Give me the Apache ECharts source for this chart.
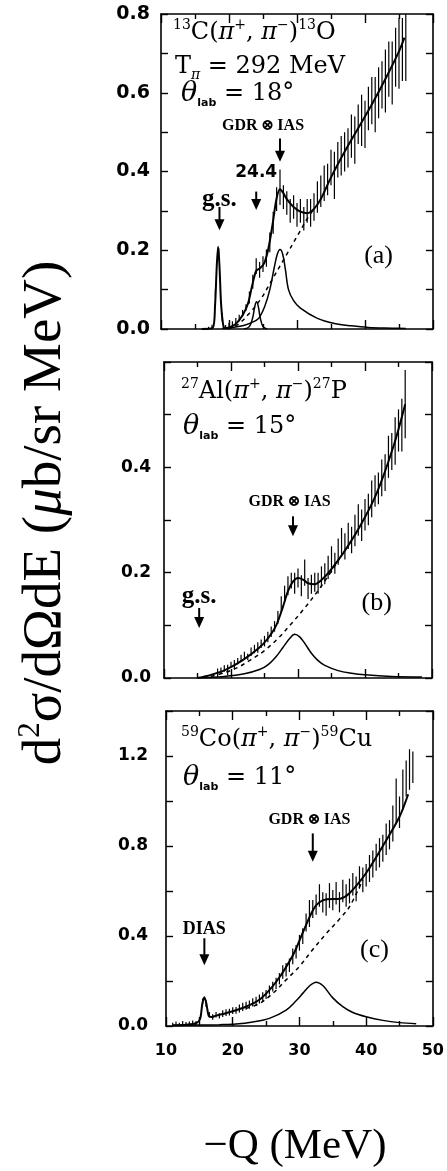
<!DOCTYPE html>
<html>
<head>
<meta charset="utf-8">
<script src="https://cdn.jsdelivr.net/npm/echarts@6/dist/echarts.min.js"></script>
<style>
html,body{margin:0;padding:0;background:#fff;}
#c{width:447px;height:1171px;}
</style>
</head>
<body>
<div id="c"></div>
<script>
// ---------------- DATA ----------------
// Panel (a) 13C(pi+,pi-)13O
const Q_A = [17.0,17.5,18.0,18.5,19.0,19.5,20.0,20.5,21.0,21.5,22.0,22.5,23.0,23.5,24.0,24.5,25.0,25.5,26.0,26.5,27.0,27.5,28.0,28.5,29.0,29.5,30.0,30.5,31.0,31.5,32.0,32.5,33.0,33.5,34.0,34.5,35.0,35.5,36.0,36.5,37.0,37.5,38.0,38.5,39.0,39.5,40.0,40.5,41.0,41.5,42.0,42.5,43.0,43.5,44.0,44.5,45.0,45.5,46.0];
const SIG_A = [0.000,0.005,0.09,0.19,0.03,0.004,0.008,0.012,0.02,0.028,0.04,0.055,0.08,0.12,0.16,0.15,0.165,0.18,0.22,0.27,0.33,0.36,0.335,0.32,0.30,0.31,0.29,0.30,0.28,0.30,0.295,0.31,0.335,0.35,0.37,0.38,0.41,0.39,0.43,0.44,0.45,0.46,0.49,0.48,0.52,0.53,0.52,0.56,0.58,0.57,0.60,0.62,0.63,0.66,0.65,0.69,0.70,0.71,0.72];
const ERR_A = [0.006,0.006,0.01,0.015,0.01,0.006,0.008,0.008,0.008,0.008,0.008,0.008,0.015,0.018,0.02,0.02,0.02,0.022,0.025,0.028,0.03,0.045,0.03,0.03,0.03,0.03,0.03,0.03,0.03,0.03,0.035,0.035,0.04,0.04,0.045,0.04,0.045,0.06,0.045,0.05,0.05,0.05,0.055,0.06,0.05,0.065,0.06,0.055,0.06,0.07,0.065,0.06,0.08,0.07,0.08,0.075,0.09,0.08,0.09];
const FIT_A = [[16,0],[17.6,0.003],[17.95,0.06],[18.2,0.16],[18.4,0.209],[18.6,0.16],[18.85,0.06],[19.2,0.006],[19.6,0.002],[20.2,0.005],[21,0.013],[22,0.035],[22.8,0.065],[23.4,0.11],[24,0.148],[24.6,0.155],[25.2,0.168],[25.8,0.205],[26.4,0.265],[27,0.332],[27.5,0.355],[28,0.345],[28.5,0.33],[29.5,0.31],[30.5,0.298],[31.5,0.294],[32.5,0.305],[33.5,0.33],[35,0.385],[37,0.45],[39,0.51],[41,0.57],[43,0.635],[45,0.705],[45.8,0.74]];
const BG_A = [[19.8,0],[20.5,0.004],[21.5,0.014],[23,0.04],[24.75,0.078],[26,0.115],[28,0.175],[30,0.235],[31.5,0.28],[32.5,0.305]];
const GDR_A = [[19,0.002],[20.5,0.004],[22,0.008],[23,0.014],[24,0.022],[24.5,0.03],[25.25,0.057],[26,0.1],[26.7,0.16],[27.1,0.19],[27.5,0.202],[27.9,0.19],[28.3,0.15],[28.75,0.1],[29.5,0.072],[30.5,0.053],[33,0.027],[35.5,0.014],[38,0.008],[40.5,0.004],[44,0.002],[46,0.001]];
const P24_A = [[22.2,0],[23,0.006],[23.5,0.03],[23.8,0.058],[24.05,0.069],[24.3,0.058],[24.6,0.028],[25,0.006],[25.6,0]];
const ARROWS_A = [[18.6,0.31,0.251],[24.0,0.349,0.302],[27.5,0.484,0.425]];
const LABELS_A = [['g.s.',18.6,0.33],['24.4',24.0,0.397],['GDR⊗IAS',25.0,0.516],['(a)',42,0.184]];

// Panel (b) 27Al(pi+,pi-)27P
const Q_B = [18.0,18.5,19.0,19.5,20.0,20.5,21.0,21.5,22.0,22.5,23.0,23.5,24.0,24.5,25.0,25.5,26.0,26.5,27.0,27.5,28.0,28.5,29.0,29.5,30.0,30.5,31.0,31.5,32.0,32.5,33.0,33.5,34.0,34.5,35.0,35.5,36.0,36.5,37.0,37.5,38.0,38.5,39.0,39.5,40.0,40.5,41.0,41.5,42.0,42.5,43.0,43.5,44.0,44.5,45.0,45.5,46.0];
const SIG_B = [0.01,0.014,0.018,0.015,0.025,0.026,0.032,0.038,0.042,0.04,0.05,0.055,0.058,0.065,0.07,0.078,0.088,0.098,0.115,0.14,0.16,0.175,0.185,0.18,0.19,0.175,0.2,0.17,0.178,0.182,0.18,0.192,0.198,0.21,0.225,0.218,0.24,0.26,0.25,0.27,0.262,0.28,0.3,0.29,0.31,0.32,0.34,0.355,0.36,0.38,0.39,0.42,0.43,0.45,0.47,0.48,0.52];
const ERR_B = [0.008,0.006,0.006,0.01,0.006,0.008,0.006,0.006,0.008,0.006,0.008,0.008,0.01,0.008,0.01,0.01,0.01,0.01,0.012,0.015,0.015,0.018,0.015,0.02,0.018,0.02,0.025,0.02,0.018,0.018,0.02,0.02,0.02,0.022,0.025,0.02,0.025,0.025,0.025,0.025,0.025,0.03,0.03,0.03,0.03,0.03,0.035,0.03,0.03,0.035,0.035,0.04,0.035,0.045,0.04,0.05,0.065];
const FIT_B = [[15,0],[17,0.006],[19.25,0.016],[21.75,0.034],[24.25,0.058],[25.5,0.075],[26.75,0.1],[27.75,0.135],[28.5,0.165],[29.25,0.183],[30,0.19],[30.75,0.187],[31.5,0.18],[32.5,0.178],[33.5,0.186],[34.75,0.203],[36.75,0.237],[39.25,0.288],[41.75,0.351],[44.25,0.44],[46,0.52]];
const BG_B = [[17,0.003],[19,0.01],[21,0.02],[23,0.035],[25,0.052],[27,0.075],[29,0.103],[31,0.133],[33,0.166],[35,0.203],[36.2,0.227]];
const GDR_B = [[15,0],[19,0.003],[22,0.008],[24.25,0.016],[25.5,0.025],[26.75,0.041],[27.75,0.058],[28.75,0.075],[29.5,0.083],[30.25,0.078],[31,0.066],[32,0.047],[33,0.033],[34,0.024],[36,0.014],[38,0.009],[40,0.006],[44,0.003],[48.5,0.002]];
const ARROWS_B = [[15.25,0.133,0.095],[29.25,0.307,0.269]];
const LABELS_B = [['g.s.',15.25,0.155],['GDR⊗IAS',28.75,0.335],['(b)',41.75,0.142]];

// Panel (c) 59Co(pi+,pi-)59Cu
const Q_C = [11.0,11.5,12.0,12.5,13.0,13.5,14.0,14.5,15.0,15.5,16.0,16.5,17.0,17.5,18.0,18.5,19.0,19.5,20.0,20.5,21.0,21.5,22.0,22.5,23.0,23.5,24.0,24.5,25.0,25.5,26.0,26.5,27.0,27.5,28.0,28.5,29.0,29.5,30.0,30.5,31.0,31.5,32.0,32.5,33.0,33.5,34.0,34.5,35.0,35.5,36.0,36.5,37.0,37.5,38.0,38.5,39.0,39.5,40.0,40.5,41.0,41.5,42.0,42.5,43.0,43.5,44.0,44.5,45.0,45.5,46.0,46.5,47.0];
const SIG_C = [0.005,0.01,0.004,0.012,0.008,0.01,0.015,0.012,0.03,0.11,0.10,0.05,0.04,0.05,0.045,0.055,0.06,0.062,0.068,0.07,0.078,0.085,0.09,0.095,0.105,0.11,0.12,0.13,0.14,0.16,0.175,0.19,0.21,0.24,0.25,0.27,0.31,0.33,0.37,0.40,0.46,0.50,0.52,0.54,0.58,0.55,0.54,0.58,0.56,0.59,0.55,0.60,0.58,0.60,0.63,0.61,0.66,0.65,0.67,0.70,0.72,0.75,0.77,0.79,0.83,0.85,0.90,1.00,0.95,1.05,1.10,1.14,1.15];
const ERR_C = [0.01,0.01,0.01,0.01,0.01,0.01,0.01,0.01,0.01,0.012,0.015,0.012,0.012,0.012,0.012,0.015,0.015,0.015,0.015,0.015,0.018,0.018,0.018,0.018,0.018,0.02,0.02,0.02,0.02,0.02,0.022,0.025,0.025,0.03,0.03,0.03,0.035,0.03,0.035,0.035,0.04,0.06,0.04,0.045,0.05,0.045,0.05,0.055,0.045,0.05,0.045,0.05,0.05,0.055,0.05,0.055,0.05,0.055,0.05,0.06,0.06,0.06,0.065,0.06,0.07,0.065,0.08,0.1,0.07,0.09,0.08,0.09,0.07];
const FIT_C = [[11,0.003],[13,0.006],[14.5,0.012],[15.1,0.03],[15.45,0.1],[15.75,0.128],[16.05,0.1],[16.4,0.045],[16.8,0.04],[17.5,0.046],[19.1,0.058],[21.6,0.081],[24.1,0.119],[26.6,0.2],[29.1,0.319],[30.6,0.422],[32.1,0.519],[33,0.55],[34.1,0.563],[36.1,0.566],[37.5,0.59],[40,0.68],[42.5,0.8],[45,0.93],[46.3,1.03]];
const BG_C = [[22,0.078],[24,0.1],[26,0.145],[28,0.205],[30,0.265],[32,0.34],[34,0.41],[36,0.475],[37.5,0.53],[39.5,0.65]];
const GDR_C = [[11,0.002],[15,0.004],[18,0.006],[20.5,0.009],[23,0.018],[25.5,0.034],[28,0.071],[29.5,0.112],[30.5,0.145],[31.5,0.178],[32.5,0.195],[33.5,0.18],[35,0.125],[36.5,0.086],[38,0.06],[40,0.041],[42.5,0.025],[45,0.015],[47.5,0.01]];
const ARROWS_C = [[15.75,0.39,0.27],[32,0.856,0.73]];
const LABELS_C = [['DIAS',15.75,0.43],['GDR⊗IAS',31.5,0.916],['(c)',41.25,0.338]];

// axis settings
const X_MIN = 10, X_MAX = 50;
const Y_MAX = [0.8, 0.6, 1.4];
const Y_STEP = [0.1, 0.1, 0.2];
const Y_LABEL_STEP = [0.2, 0.2, 0.4];
const Y_SHOW_MAX = [true, false, false];

// ---------------- CHART ----------------
const SERIF = "'Liberation Serif','DejaVu Serif',serif";
const DSERIF = "'DejaVu Serif','Liberation Serif',serif";
const SANS = "'DejaVu Sans',sans-serif";
const chart = echarts.init(document.getElementById('c'), null, {renderer:'canvas'});

const grids = [
  {left:161, right:14, top:14, height:315},
  {left:164, right:15, top:362, height:316},
  {left:166, right:14, top:711, height:315}
];
const labelFont = [19, 17, 17];
const labelMargin = [11, 13, 18];

const xAxes = [], yAxes = [];
for (let p = 0; p < 3; p++) {
  ['bottom','top'].forEach(pos => {
    xAxes.push({
      type:'value', gridIndex:p, position:pos, min:X_MIN, max:X_MAX, interval:10,
      axisLine:{show:true, onZero:false, lineStyle:{color:'#000', width:1.6}},
      axisTick:{show:true, inside:true, length:9, lineStyle:{color:'#000', width:1.4}},
      minorTick:{show:true, splitNumber:2, length:5, lineStyle:{color:'#000', width:1.4}},
      splitLine:{show:false}, minorSplitLine:{show:false},
      axisLabel:{show: pos==='bottom' && p===2, color:'#000', fontFamily:SANS, fontWeight:'bold', fontSize:16, margin:17}
    });
  });
  ['left','right'].forEach(pos => {
    const mx = Y_MAX[p], ls = Y_LABEL_STEP[p], sm = Y_SHOW_MAX[p];
    yAxes.push({
      type:'value', gridIndex:p, position:pos, min:0, max:mx, interval:Y_STEP[p],
      axisLine:{show:true, onZero:false, lineStyle:{color:'#000', width:1.6}},
      axisTick:{show:true, inside:true, length:7, lineStyle:{color:'#000', width:1.4}},
      splitLine:{show:false},
      axisLabel:{show: pos==='left', color:'#000', fontFamily:SANS, fontWeight:'bold', fontSize:labelFont[p], margin:labelMargin[p],
        showMaxLabel:true,
        formatter: v => {
          const r = v/ls;
          if (Math.abs(r - Math.round(r)) > 1e-6) return '';
          if (!sm && v > mx - 1e-9) return '';
          return v.toFixed(1);
        }}
    });
  });
}

function lineS(p, data, opts) {
  return Object.assign({
    type:'line', xAxisIndex:2*p, yAxisIndex:2*p, data:data, smooth:0.35, symbol:'none',
    silent:true, animation:false, clip:true,
    lineStyle:{color:'#000', width:1.5}
  }, opts || {});
}
function errS(p, q, s, e) {
  return {
    type:'custom', xAxisIndex:2*p, yAxisIndex:2*p, silent:true, animation:false, clip:true,
    data: q.map((x,i)=>[x, s[i], e[i]]),
    renderItem: (params, api) => {
      const x = api.value(0), y = api.value(1), er = api.value(2);
      const a = api.coord([x, y-er]), b = api.coord([x, y+er]);
      return {type:'line', shape:{x1:a[0], y1:a[1], x2:b[0], y2:b[1]}, style:{stroke:'#000', lineWidth:1.2}};
    }
  };
}
function arrowS(p, arr) {
  return {
    type:'custom', xAxisIndex:2*p, yAxisIndex:2*p, silent:true, animation:false,
    data: arr.map(a=>[a[0], a[1], a[2]]),
    renderItem: (params, api) => {
      const t = api.coord([api.value(0), api.value(1)]);
      const h = api.coord([api.value(0), api.value(2)]);
      const x = t[0];
      return {type:'group', children:[
        {type:'line', shape:{x1:x, y1:t[1], x2:x, y2:h[1]-9}, style:{stroke:'#000', lineWidth:2}},
        {type:'polygon', shape:{points:[[x-5,h[1]-11],[x+5,h[1]-11],[x,h[1]]]}, style:{fill:'#000'}}
      ]};
    }
  };
}
function fontFor(t) {
  if (t === 'g.s.') return {fontFamily:SERIF, fontWeight:'bold', fontSize:25};
  if (t === '24.4') return {fontFamily:SANS, fontWeight:'bold', fontSize:17};
  if (t === 'DIAS') return {fontFamily:SERIF, fontWeight:'bold', fontSize:18};
  if (t.indexOf('GDR') === 0) return {fontFamily:SERIF, fontWeight:'bold', fontSize:16};
  return {fontFamily:SERIF, fontWeight:'normal', fontSize:26};
}
function labelS(p, labs) {
  return {
    type:'custom', xAxisIndex:2*p, yAxisIndex:2*p, silent:true, animation:false,
    data: labs.map(l=>[l[1], l[2]]),
    renderItem: (params, api) => {
      const pt = api.coord([api.value(0), api.value(1)]);
      const txt = labs[params.dataIndex][0];
      const disp = txt === 'GDR⊗IAS' ? 'GDR\u2009⊗\u2009IAS' : txt;
      return {type:'text', x:pt[0], y:pt[1], style:Object.assign({text:disp, fill:'#000', align:'center', verticalAlign:'middle', textAlign:'center', textVerticalAlign:'middle'}, fontFor(txt))};
    }
  };
}

const dashed = {lineStyle:{color:'#000', width:1.5, type:[4,4]}};
const thick = {lineStyle:{color:'#000', width:2}, smooth:0.3};

const series = [
  // panel a
  lineS(0, BG_A, dashed),
  lineS(0, GDR_A),
  lineS(0, P24_A),
  errS(0, Q_A, SIG_A, ERR_A),
  lineS(0, FIT_A, thick),
  arrowS(0, ARROWS_A),
  labelS(0, LABELS_A),
  // panel b
  lineS(1, BG_B, dashed),
  lineS(1, GDR_B),
  errS(1, Q_B, SIG_B, ERR_B),
  lineS(1, FIT_B, thick),
  arrowS(1, ARROWS_B),
  labelS(1, LABELS_B),
  // panel c
  lineS(2, BG_C, dashed),
  lineS(2, GDR_C),
  errS(2, Q_C, SIG_C, ERR_C),
  lineS(2, FIT_C, thick),
  arrowS(2, ARROWS_C),
  labelS(2, LABELS_C)
];

const reactRich = {
  n:{fontFamily:DSERIF, fontSize:24, lineHeight:30, color:'#000'},
  s:{fontFamily:DSERIF, fontSize:14, lineHeight:19, verticalAlign:'top', color:'#000'},
  sb:{fontFamily:SANS, fontWeight:'bold', fontSize:11, lineHeight:14, verticalAlign:'bottom', color:'#000'},
  sp:{fontFamily:DSERIF, fontStyle:'italic', fontSize:14, lineHeight:14, verticalAlign:'bottom', color:'#000'},
  pi:{fontFamily:DSERIF, fontStyle:'italic', fontSize:24, lineHeight:30, color:'#000'},
  th:{fontFamily:DSERIF, fontStyle:'italic', fontSize:27, lineHeight:30, color:'#000'}
};
function rtext(x, y, t) {
  return {type:'text', x:x, y:y, silent:true, style:{text:t, rich:reactRich, align:'left', verticalAlign:'middle', fill:'#000'}};
}

const option = {
  backgroundColor:'#fff',
  animation:false,
  grid: grids,
  xAxis: xAxes,
  yAxis: yAxes,
  series: series,
  graphic: [
    rtext(173, 33, '{s|13}{n|C(}{pi|π}{s|+}{n|, }{pi|π}{s|−}{n|)}{s|13}{n|O}'),
    rtext(175, 67, '{n|T}{sp|π}{n| = 292 MeV}'),
    rtext(181, 94, '{th|θ}{sb|lab}{n| = 18°}'),
    rtext(181, 392, '{s|27}{n|Al(}{pi|π}{s|+}{n|, }{pi|π}{s|−}{n|)}{s|27}{n|P}'),
    rtext(183, 427, '{th|θ}{sb|lab}{n| = 15°}'),
    rtext(181, 740, '{s|59}{n|Co(}{pi|π}{s|+}{n|, }{pi|π}{s|−}{n|)}{s|59}{n|Cu}'),
    rtext(183, 778, '{th|θ}{sb|lab}{n| = 11°}'),
    {type:'text', x:46, y:513, rotation:Math.PI/2, silent:true,
      style:{text:'{n|d}{s|2}{n|σ/dΩdE (}{i|μ}{n|b/sr MeV)}', align:'center', verticalAlign:'middle', fill:'#000',
        rich:{
          n:{fontFamily:SERIF, fontSize:55, lineHeight:62, color:'#000'},
          s:{fontFamily:SERIF, fontSize:31, lineHeight:40, verticalAlign:'top', color:'#000'},
          i:{fontFamily:SERIF, fontStyle:'italic', fontSize:55, lineHeight:62, color:'#000'}
        }}},
    {type:'text', x:295, y:1147, silent:true,
      style:{text:'−Q (MeV)', fontFamily:SERIF, fontSize:43, align:'center', verticalAlign:'middle', fill:'#000'}}
  ]
};
chart.setOption(option);
</script>
</body>
</html>
